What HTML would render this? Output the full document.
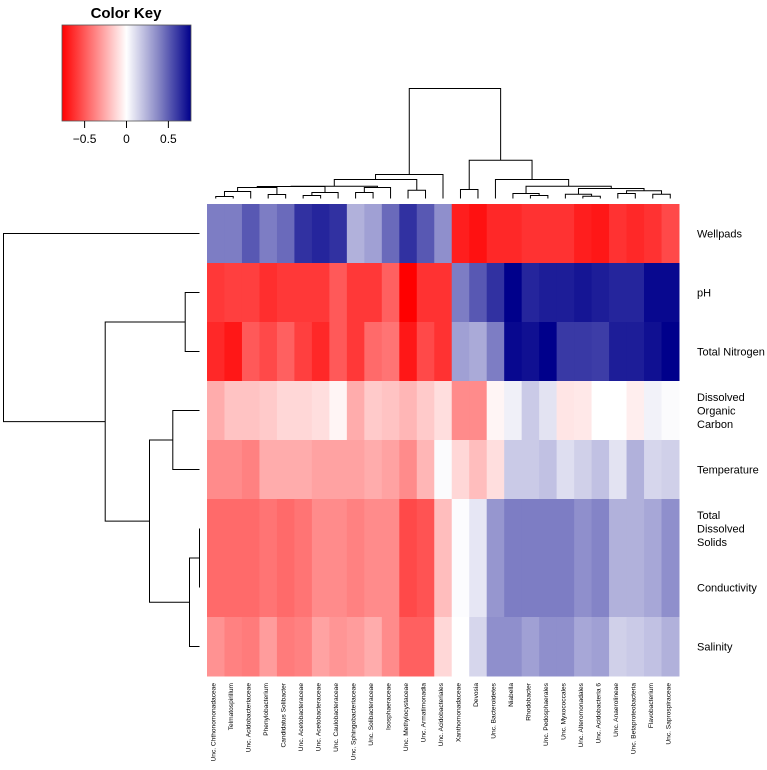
<!DOCTYPE html>
<html><head><meta charset="utf-8"><style>
html,body{margin:0;padding:0;background:#fff;}
svg{display:block;font-family:"Liberation Sans",Arial,sans-serif;}
</style></head><body>
<svg id="chart" width="767" height="770" viewBox="0 0 767 770" xmlns="http://www.w3.org/2000/svg">
<defs><linearGradient id="keygrad" x1="0" x2="1" y1="0" y2="0">
<stop offset="0" stop-color="#ff0000"/><stop offset="0.5" stop-color="#ffffff"/><stop offset="0.75" stop-color="#8585c4"/><stop offset="1" stop-color="#00008b"/></linearGradient></defs>
<g id="key">
<text x="126" y="18" text-anchor="middle" font-size="15" font-weight="bold">Color Key</text>
<rect x="62" y="25" width="129" height="96" fill="url(#keygrad)" stroke="#555" stroke-width="0.8"/>
</g>
<g id="cells"></g>
<g id="rowlabels"></g>
<g id="collabels"></g>
<g id="coldend" stroke="#000" stroke-width="1" fill="none"></g>
<g id="rowdend" stroke="#000" stroke-width="1" fill="none"></g>
</svg>
<script>
const columns = ["Unc. Chthonomonadaceae","Telmatospirillum","Unc. Acidobacteriaceae","Phenylobacterium","Candidatus Solibacter","Unc. Acetobacteraceae","Unc. Acetobacteraceae","Unc. Caulobacteraceae","Unc. Sphingobacteriaceae","Unc. Solibacteraceae","Isosphaeraceae","Unc. Methylocystaceae","Unc. Armatimonadia","Unc. Acidobacteriales","Xanthomonadaceae","Devosia","Unc. Bacteroidetes","Niabella","Rhodobacter","Unc. Pedosphaerales","Unc. Myxococcales","Unc. Alteromonadales","Unc. Acidobacteria 6","Unc. Anaerolineae","Unc. Betaproteobacteria","Flavobacterium","Unc. Saprospiraceae"];
const rows = [["Wellpads"],["pH"],["Total Nitrogen"],["Dissolved","Organic","Carbon"],["Temperature"],["Total","Dissolved","Solids"],["Conductivity"],["Salinity"]];
const wellpads = [0.45,0.45,0.55,0.45,0.5,0.65,0.68,0.65,0.3,0.35,0.5,0.65,0.55,0.4,-0.68,-0.72,-0.65,-0.65,-0.62,-0.62,-0.62,-0.68,-0.7,-0.62,-0.65,-0.62,-0.55];
const ph = [-0.6,-0.58,-0.58,-0.63,-0.6,-0.6,-0.6,-0.5,-0.6,-0.6,-0.48,-0.77,-0.62,-0.62,0.45,0.55,0.65,0.77,0.68,0.7,0.7,0.72,0.7,0.68,0.68,0.75,0.75];
const nitrogen = [-0.65,-0.7,-0.5,-0.55,-0.48,-0.58,-0.65,-0.5,-0.6,-0.45,-0.42,-0.7,-0.55,-0.62,0.35,0.32,0.45,0.75,0.73,0.77,0.63,0.63,0.62,0.7,0.7,0.73,0.77];
const doc = [-0.25,-0.18,-0.18,-0.16,-0.12,-0.12,-0.1,-0.03,-0.25,-0.16,-0.18,-0.22,-0.16,-0.1,-0.35,-0.35,-0.03,0.08,0.22,0.13,-0.08,-0.07,0,0,-0.05,0.07,0.03];
const temperature = [-0.35,-0.35,-0.38,-0.25,-0.25,-0.25,-0.28,-0.28,-0.28,-0.25,-0.28,-0.35,-0.22,0.03,-0.12,-0.2,-0.1,0.22,0.22,0.25,0.15,0.2,0.25,0.13,0.3,0.18,0.2];
const tds = [-0.45,-0.45,-0.45,-0.42,-0.45,-0.42,-0.35,-0.35,-0.38,-0.35,-0.35,-0.55,-0.52,-0.2,0.02,0.12,0.38,0.45,0.45,0.45,0.45,0.4,0.43,0.3,0.3,0.33,0.4];
const conductivity = [-0.45,-0.45,-0.45,-0.42,-0.45,-0.42,-0.35,-0.35,-0.38,-0.35,-0.35,-0.55,-0.52,-0.2,0.02,0.12,0.38,0.45,0.45,0.45,0.45,0.4,0.43,0.3,0.3,0.33,0.4];
const salinity = [-0.33,-0.38,-0.4,-0.3,-0.4,-0.38,-0.28,-0.32,-0.3,-0.25,-0.35,-0.48,-0.48,-0.12,0,0.18,0.4,0.4,0.35,0.4,0.4,0.33,0.35,0.2,0.22,0.25,0.3];
const keyTicks = [-0.5,0,0.5];
const keyTickLabels = ["\u22120.5","0","0.5"];
const colMerges = [[0,1,2],[-1,2,7],[3,4,4],[-2,-3,11],[5,6,3],[-5,7,6],[-4,-6,12],[8,9,6],[-8,10,11],[-7,-9,12.3],[11,12,8.3],[-10,-11,19],[-12,13,24],[14,15,9],[18,19,3],[17,-15,5],[21,22,2.3],[20,-17,4.3],[23,24,5],[25,26,4.3],[-19,-20,7.7],[-18,-21,10],[-16,-22,12.3],[16,-23,19],[-14,-24,38.3],[-13,-25,110]];
const rowMerges = [[5,6,0],[-1,7,10],[3,4,26.7],[-3,-2,50],[1,2,14.3],[-5,-4,94.3],[0,-6,196]];

const NS="http://www.w3.org/2000/svg";
const X0=207, X1=679, Y0=204, Y1=676, VMAX=0.77;
const cw=(X1-X0)/columns.length, rh=(Y1-Y0)/rows.length;
const xCol=i=>X0+cw*i, yRow=j=>Y0+rh*j;
const xKey=v=>62+129*(v+VMAX)/(2*VMAX);
function color(v){let t=Math.max(-1,Math.min(1,v/VMAX));
 if(t<0){t=-t;return `rgb(255,${Math.round(255*(1-t))},${Math.round(255*(1-t))})`;}
 t=Math.pow(t,1.25);
 return `rgb(${Math.round(255*(1-t))},${Math.round(255*(1-t))},${Math.round(255-116*t)})`;}
function el(tag,attrs,parent){const e=document.createElementNS(NS,tag);for(const k in attrs)e.setAttribute(k,attrs[k]);parent.appendChild(e);return e;}
const matrix=[wellpads,ph,nitrogen,doc,temperature,tds,conductivity,salinity];
const cells=document.getElementById('cells');
matrix.forEach((row,j)=>row.forEach((v,i)=>{
 const r=el('rect',{x:xCol(i),y:yRow(j),width:cw+0.5,height:rh+0.5,fill:color(v)},cells);
 
 
}));
const key=document.getElementById('key');
keyTicks.forEach((t,k)=>{
 const l=el('line',{x1:xKey(t),x2:xKey(t),y1:121,y2:128,stroke:'#000'},key);
 
 
 const tx=el('text',{x:xKey(t),y:143,'text-anchor':'middle','font-size':12},key);
 tx.textContent=keyTickLabels[k];
 
 
});
const rl=document.getElementById('rowlabels');
rows.forEach((lines,j)=>{
 const cy=yRow(j)+rh/2;
 const tx=el('text',{x:697,'font-size':11},rl);
 
 
 lines.forEach((s,k)=>{const ts=el('tspan',{x:697,y:cy+4+(k-(lines.length-1)/2)*13.5},tx);ts.textContent=s;});
});
const cl=document.getElementById('collabels');
columns.forEach((s,i)=>{
 const x=xCol(i)+cw/2;
 const tx=el('text',{x:x,y:683,'font-size':6.6,'text-anchor':'end',transform:`rotate(-90 ${x} 683)`},cl);
 tx.textContent=s;
 
 
});
function drawDend(merges,n,pos,g,horizontal,base,scale,name){
 const P=[],H=[];
 const get=id=>id>=0?[pos(id),0]:[P[-id-1],H[-id-1]];
 merges.forEach(([a,b,h])=>{
  const [pa,ha]=get(a),[pb,hb]=get(b);
  let d;
  if(!horizontal){d=`M${pa},${base-ha*scale}V${base-h*scale}H${pb}V${base-hb*scale}`;}
  else{d=`M${base-ha*scale},${pa}H${base-h*scale}V${pb}H${base-hb*scale}`;}
  const p=el('path',{d:d},g);
  
  
  P.push((pa+pb)/2);H.push(h);
 });
}
drawDend(colMerges,columns.length,i=>xCol(i)+cw/2,document.getElementById('coldend'),false,198.5,1,'column-dendrogram-branch');
drawDend(rowMerges,rows.length,j=>yRow(j)+rh/2,document.getElementById('rowdend'),true,199.5,1,'row-dendrogram-branch');
</script>
</body></html>
